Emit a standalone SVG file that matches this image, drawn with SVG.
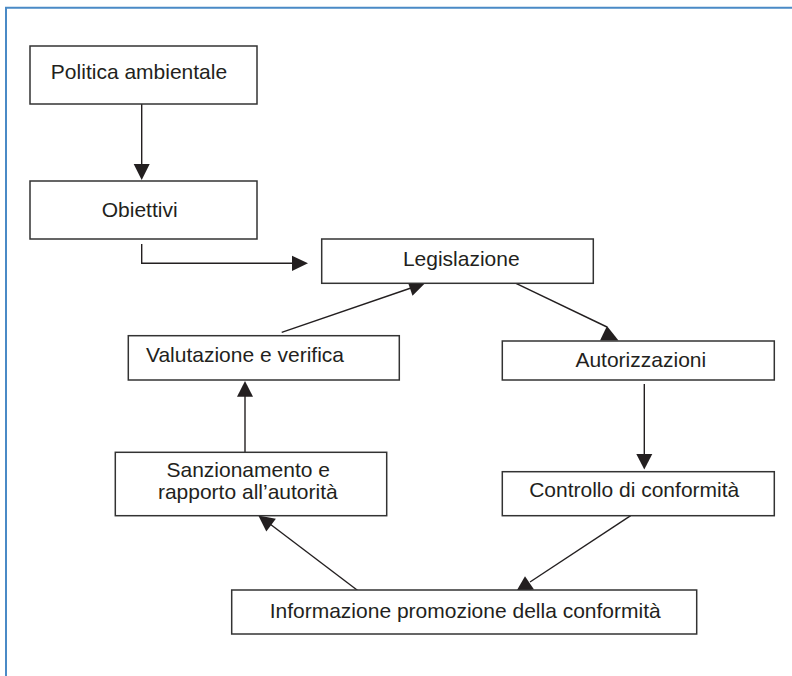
<svg xmlns="http://www.w3.org/2000/svg" width="792" height="676" viewBox="0 0 792 676">
<style>
.box{fill:#ffffff;stroke:#333333;stroke-width:1.5}
.lbl{font-family:"Liberation Sans",Arial,sans-serif;font-size:21px;fill:#231f20;text-anchor:middle}
.con{fill:none;stroke:#231f20;stroke-width:1.4}
.head{fill:#231f20;stroke:none}
</style>
<rect x="0" y="0" width="792" height="676" fill="#ffffff"/>
<path d="M6,676 V7.7 H792" fill="none" stroke="#4a8ac6" stroke-width="2"/>
<g id="connectors">
<path class="con" d="M141.7,104 V166"/>
<polygon class="head" points="141.7,180 133.7,164 149.7,164"/>
<path class="con" d="M141.7,244 V263.3 H294"/>
<polygon class="head" points="308,263.3 292,255.7 292,271"/>
<path class="con" d="M516,283.3 L607,327"/>
<polygon class="head" points="618.5,340.5 600,340.5 607,326"/>
<path class="con" d="M644.3,384 V456"/>
<polygon class="head" points="644.3,469.5 636.3,454 652.3,454"/>
<path class="con" d="M630.7,515.7 L530,582"/>
<polygon class="head" points="516,591.7 525,576.2 534,589.6"/>
<path class="con" d="M360,592.3 L270,524"/>
<polygon class="head" points="258.3,515.5 275.9,518.7 266.3,531.5"/>
<path class="con" d="M245,456.7 V395"/>
<polygon class="head" points="245,381 237,396.7 253,396.7"/>
<path class="con" d="M281.7,332.3 L411,288"/>
<polygon class="head" points="425,283.3 407.3,280.6 412.5,295.8"/>
</g>
<g id="politica">
<rect class="box" x="30" y="46" width="227" height="58"/>
<text class="lbl" x="139" y="79">Politica ambientale</text>
</g>
<g id="obiettivi">
<rect class="box" x="30" y="181" width="227" height="58"/>
<text class="lbl" x="139.7" y="216.7">Obiettivi</text>
</g>
<g id="legislazione">
<rect class="box" x="321.7" y="239" width="271.6" height="44.3"/>
<text class="lbl" x="461.3" y="265.7">Legislazione</text>
</g>
<g id="autorizzazioni">
<rect class="box" x="502.3" y="341" width="272" height="39"/>
<text class="lbl" x="640.8" y="366.7">Autorizzazioni</text>
</g>
<g id="controllo">
<rect class="box" x="502.3" y="471.7" width="272" height="44"/>
<text class="lbl" x="634.2" y="496.7">Controllo di conformità</text>
</g>
<g id="informazione">
<rect class="box" x="231.7" y="590" width="465" height="44"/>
<text class="lbl" x="465.2" y="618.3">Informazione promozione della conformità</text>
</g>
<g id="sanzionamento">
<rect class="box" x="115.3" y="452.3" width="271.4" height="63.4"/>
<text class="lbl" x="248.2" y="477.3">Sanzionamento e</text>
<text class="lbl" x="247.8" y="499">rapporto all’autorità</text>
</g>
<g id="valutazione">
<rect class="box" x="128.3" y="335.7" width="271" height="44.3"/>
<text class="lbl" x="245" y="361.7">Valutazione e verifica</text>
</g>
</svg>
